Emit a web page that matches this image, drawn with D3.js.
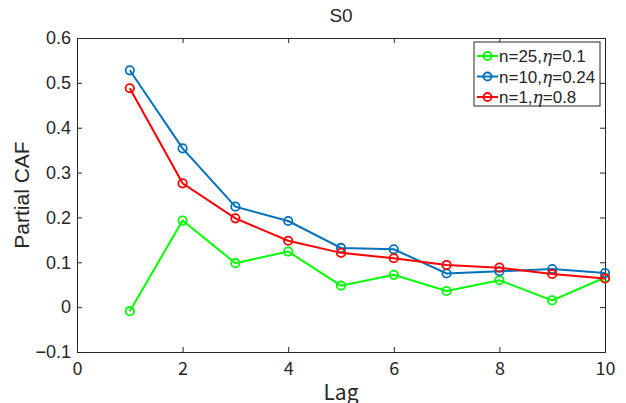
<!DOCTYPE html>
<html>
<head>
<meta charset="utf-8">
<script src="https://cdn.jsdelivr.net/npm/d3@7"></script>
<style>
  body { margin: 0; background: #fff; }
  text { font-family: "Liberation Sans", Arial, sans-serif; fill: #262626; }
</style>
</head>
<body>
<div id="chart"></div>
<script>
// data
const lags = [1, 2, 3, 4, 5, 6, 7, 8, 9, 10];
const green = [-0.009, 0.193, 0.098, 0.124, 0.048, 0.072, 0.036, 0.060, 0.015, 0.066];
const blue = [0.528, 0.354, 0.224, 0.192, 0.132, 0.129, 0.075, 0.080, 0.085, 0.076];
const red = [0.488, 0.276, 0.198, 0.148, 0.121, 0.109, 0.094, 0.088, 0.074, 0.064];
const xTicks = [0, 2, 4, 6, 8, 10];
const yTicks = [-0.1, 0, 0.1, 0.2, 0.3, 0.4, 0.5, 0.6];

const series = [
    { name: 'n=25,', eta: '0.1', values: green, color: '#00ff00' },
    { name: 'n=10,', eta: '0.24', values: blue, color: '#0072bd' },
    { name: 'n=1,', eta: '0.8', values: red, color: '#ff0000' }
];

const width = 626, height = 403;
const margin = { left: 77, right: 21, top: 38, bottom: 51 };

const svg = d3.select('#chart').append('svg')
    .attr('width', width)
    .attr('height', height);

const x = d3.scaleLinear().domain([0, 10]).range([margin.left, width - margin.right]);
const y = d3.scaleLinear().domain([-0.1, 0.6]).range([height - margin.bottom, margin.top]);

const axisColor = '#262626';
const fmt = d => d < 0 ? '\u2212' + Math.abs(d) : String(d);

// axes with inward ticks, box on
svg.append('g')
    .attr('transform', `translate(0,${y(-0.1)})`)
    .call(d3.axisBottom(x).tickValues(xTicks).tickSize(-5).tickPadding(10).tickFormat(fmt))
    .call(g => g.selectAll('text').style('font-size', '18px').style('font-family', '"Noto Sans CJK JP", sans-serif'));
svg.append('g')
    .attr('transform', `translate(0,${y(0.6)})`)
    .call(d3.axisTop(x).tickValues(xTicks).tickSize(-5).tickFormat(''));
svg.append('g')
    .attr('transform', `translate(${x(0)},0)`)
    .call(d3.axisLeft(y).tickValues(yTicks).tickSize(-5).tickPadding(6).tickFormat(fmt))
    .call(g => g.selectAll('text').style('font-size', '18px'));
svg.append('g')
    .attr('transform', `translate(${x(10)},0)`)
    .call(d3.axisRight(y).tickValues(yTicks).tickSize(-5).tickFormat(''));

svg.selectAll('.domain').attr('stroke', axisColor).attr('stroke-width', 1);
svg.selectAll('.tick line').attr('stroke', axisColor);

// lines
const line = d3.line().x((d, i) => x(lags[i])).y(d => y(d));

series.forEach(s => {
    svg.append('path')
        .datum(s.values)
        .attr('fill', 'none')
        .attr('stroke', s.color)
        .attr('stroke-width', 2)
        .attr('d', line);
    svg.selectAll(null)
        .data(s.values)
        .enter().append('circle')
        .attr('cx', (d, i) => x(lags[i]))
        .attr('cy', d => y(d))
        .attr('r', 4.2)
        .attr('fill', 'none')
        .attr('stroke', s.color)
        .attr('stroke-width', 1.8);
});

// title and labels
svg.append('text')
    .attr('x', (x(0) + x(10)) / 2)
    .attr('y', 22)
    .attr('text-anchor', 'middle')
    .style('font-size', '19px')
    .text('S0');

svg.append('text')
    .attr('x', (x(0) + x(10)) / 2)
    .attr('y', 400)
    .attr('text-anchor', 'middle')
    .style('font-size', '21px')
    .style('font-family', '"Noto Sans CJK JP", sans-serif')
    .text('Lag');

svg.append('text')
    .attr('transform', `translate(29,${(y(-0.1) + y(0.6)) / 2}) rotate(-90)`)
    .attr('text-anchor', 'middle')
    .style('font-size', '21px')
    .text('Partial CAF');

// legend
const legend = svg.append('g');
legend.append('rect')
    .attr('x', 474).attr('y', 42)
    .attr('width', 126).attr('height', 64)
    .attr('fill', '#fff')
    .attr('stroke', axisColor)
    .attr('stroke-width', 1);

series.forEach((s, i) => {
    const ly = 56 + i * 20.5;
    legend.append('line')
        .attr('x1', 477).attr('x2', 498)
        .attr('y1', ly).attr('y2', ly)
        .attr('stroke', s.color).attr('stroke-width', 2);
    legend.append('circle')
        .attr('cx', 487.5).attr('cy', ly).attr('r', 4)
        .attr('fill', 'none').attr('stroke', s.color).attr('stroke-width', 1.8);
    const t = legend.append('text')
        .attr('x', 499).attr('y', ly + 6)
        .style('font-size', '17px');
    t.append('tspan').text(s.name);
    t.append('tspan').style('font-style', 'italic').style('font-family', 'DejaVu Serif, serif').text('\u03b7');
    t.append('tspan').text('=' + s.eta);
});
</script>
</body>
</html>
